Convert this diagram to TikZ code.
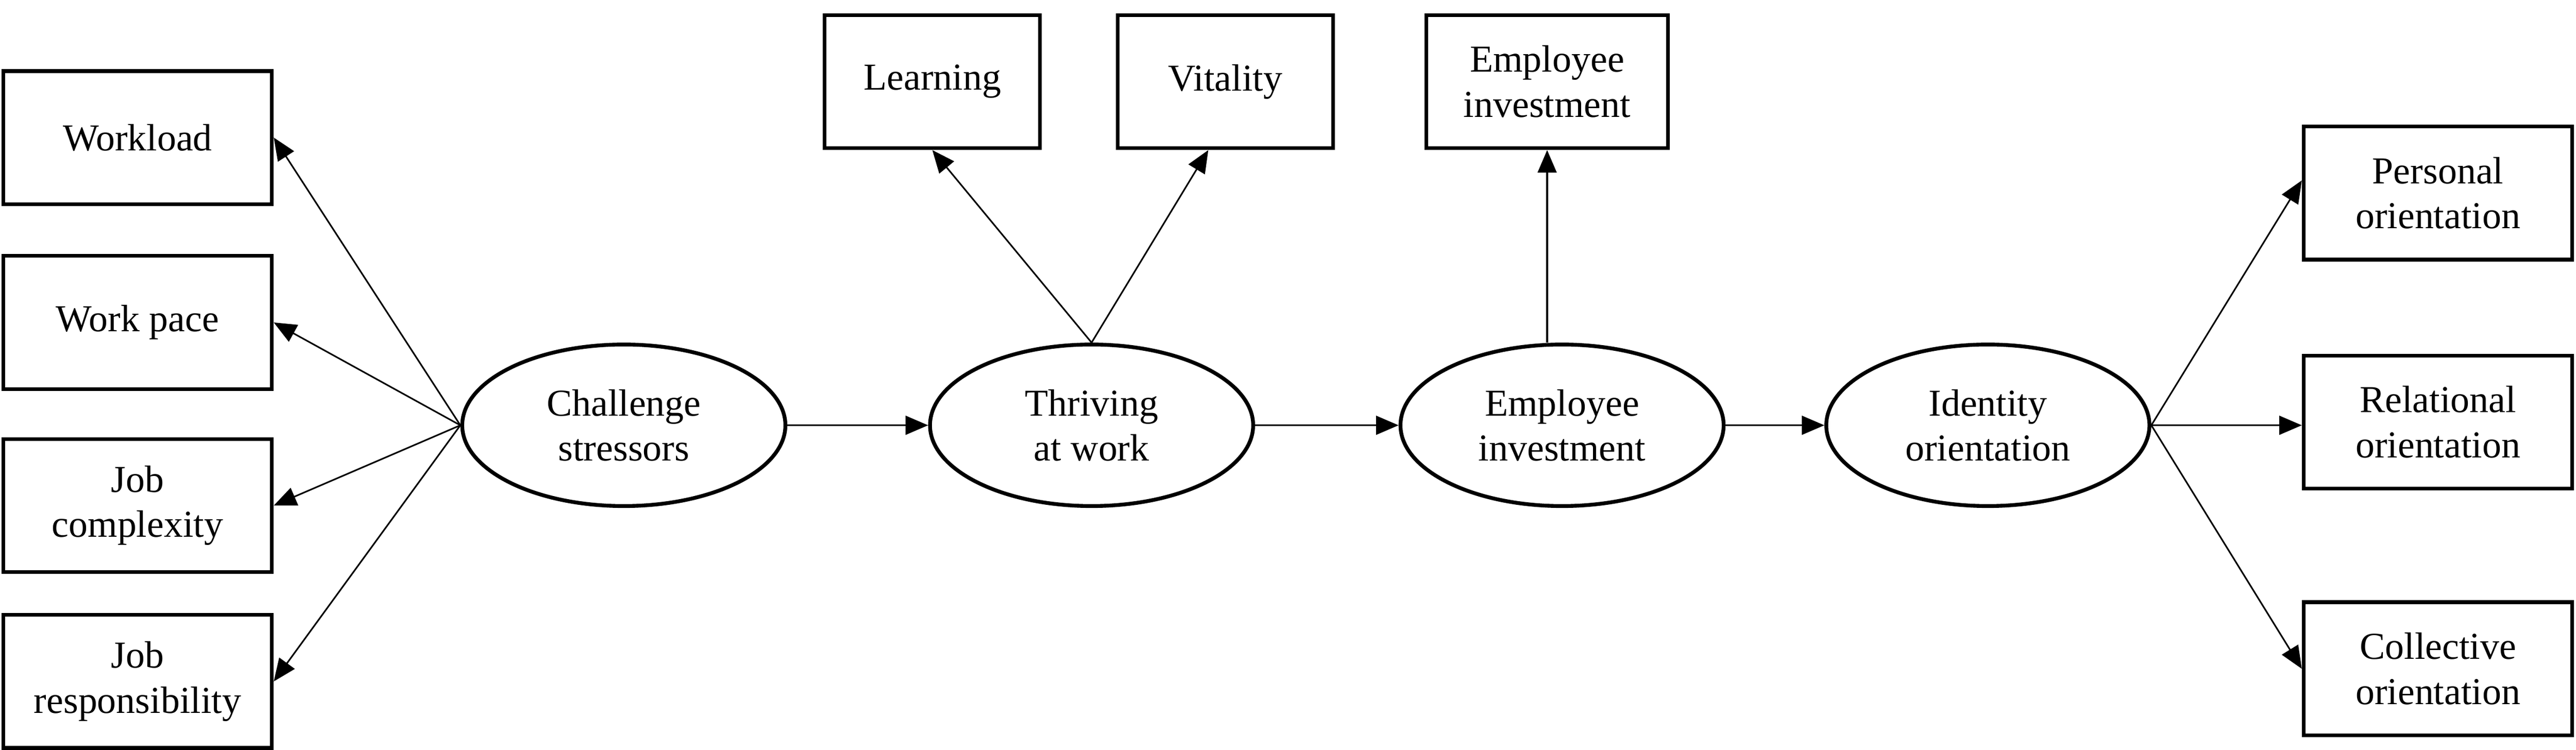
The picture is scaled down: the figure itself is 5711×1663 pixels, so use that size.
\documentclass[tikz,border=0pt]{standalone}
\usepackage{fontspec}
\setmainfont{Liberation Serif}
\usepackage{tikz}
\usetikzlibrary{shapes.geometric, arrows.meta, positioning}

\begin{document}
\begin{tikzpicture}[
  x=0.01cm, y=-0.01cm,
  font=\fontsize{24}{28.5}\selectfont,
  indicator/.style={rectangle, draw, line width=2.4pt, minimum width=5.95cm, minimum height=2.95cm, inner sep=2pt, align=center},
  latent/.style={ellipse, draw, line width=2.4pt, minimum width=7.16cm, minimum height=3.58cm, inner sep=0pt, align=center},
  arrow/.style={-{Triangle[length=0.5cm, width=0.42cm]}, line width=1pt}
]
  \useasboundingbox (0,0) rectangle (5711,1663);

  \node[indicator] (workload) at (305,305) {Workload};
  \node[indicator] (pace) at (305,715) {Work pace};
  \node[indicator] (complexity) at (305,1121) {Job\\complexity};
  \node[indicator] (responsibility) at (305,1511) {Job\\responsibility};

  \node[latent] (challenge) at (1383,943) {Challenge\\stressors};
  \node[latent, right=3.12cm of challenge] (thriving) {Thriving\\at work};
  \node[latent, right=3.18cm of thriving] (employee) {Employee\\investment};
  \node[latent, right=2.19cm of employee] (identity) {Identity\\orientation};

  \node[indicator, minimum width=4.77cm] (learning) at (2067,181) {Learning};
  \node[indicator, minimum width=4.77cm, right=1.64cm of learning] (vitality) {Vitality};
  \node[indicator, minimum width=5.36cm] (investbox) at (3430,181) {Employee\\investment};

  \node[indicator] (personal) at (5405,428) {Personal\\orientation};
  \node[indicator] (relational) at (5405,936) {Relational\\orientation};
  \node[indicator] (collective) at (5405,1483) {Collective\\orientation};

  \draw[arrow] (challenge.west) -- (workload.east);
  \draw[arrow] (challenge.west) -- (pace.east);
  \draw[arrow] (challenge.west) -- (complexity.east);
  \draw[arrow] (challenge.west) -- (responsibility.east);
  \draw[arrow] (challenge.east) -- (thriving.west);
  \draw[arrow] (thriving.north) -- (learning.south);
  \draw[arrow] (thriving.north) -- ([xshift=-0.38cm]vitality.south);
  \draw[arrow] (thriving.east) -- (employee.west);
  \draw[arrow] (investbox.south |- employee.north) -- (investbox.south);
  \draw[arrow] (employee.east) -- (identity.west);
  \draw[arrow] (identity.east) -- ([yshift=0.28cm]personal.west);
  \draw[arrow] (identity.east) -- (identity.east -| relational.west);
  \draw[arrow] (identity.east) -- (collective.west);
\end{tikzpicture}
\end{document}
